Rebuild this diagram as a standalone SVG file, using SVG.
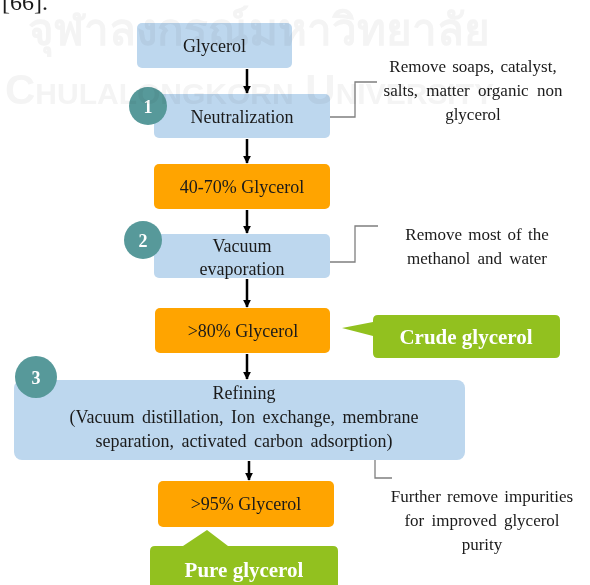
<svg xmlns="http://www.w3.org/2000/svg" width="590" height="585" viewBox="0 0 590 585">
  <defs>
    <marker id="arrow" viewBox="0 0 10 10" refX="9" refY="5" markerWidth="3.2" markerHeight="3.2" orient="auto" markerUnits="strokeWidth">
      <path d="M0,0 L10,5 L0,10 z" fill="#000"/>
    </marker>
    <style>
      text { font-family: "Liberation Serif", serif; }
      .box { font-size: 18px; fill: #1a1a1a; }
      .note { font-size: 17px; fill: #1a1a1a; }
      .num { font-weight: bold; font-size: 18px; fill: #fff; }
      .tag { font-weight: bold; font-size: 21px; fill: #fff; }
      .blue { fill: #bdd7ee; }
      .orange { fill: #ffa400; }
      .green { fill: #92c11f; }
      .step { fill: #57999a; }
      .flow { stroke: #000; stroke-width: 2.5; fill: none; marker-end: url(#arrow); }
      .lead { stroke: #7f7f7f; stroke-width: 1.3; fill: none; }
      .wm { font-family: "Liberation Sans", sans-serif; font-weight: bold; fill: #f4f4f4; mix-blend-mode: multiply; }
    </style>
  </defs>

  <rect width="590" height="585" fill="#fff"/>

  <text x="2" y="10" font-size="24" fill="#1a1a1a">[66].</text>

  <!-- connectors -->
  <g id="connectors">
    <line class="flow" x1="247" y1="69" x2="247" y2="93"/>
    <line class="flow" x1="247" y1="139" x2="247" y2="163"/>
    <line class="flow" x1="247" y1="210" x2="247" y2="233"/>
    <line class="flow" x1="247" y1="279" x2="247" y2="307"/>
    <line class="flow" x1="247" y1="354" x2="247" y2="379"/>
    <line class="flow" x1="249" y1="461" x2="249" y2="480"/>
    <path class="lead" d="M330,117 H355 V82 H377"/>
    <path class="lead" d="M330,262 H355 V226 H378"/>
    <path class="lead" d="M360,455 H375 V478 H392"/>
  </g>

  <g id="glycerol">
    <rect class="blue" x="137" y="23" width="155" height="45" rx="5"/>
    <text class="box" x="214.5" y="52" text-anchor="middle">Glycerol</text>
  </g>

  <g id="neutralization">
    <rect class="blue" x="154" y="94" width="176" height="44" rx="5"/>
    <text class="box" x="242" y="123" text-anchor="middle">Neutralization</text>
    <circle class="step" cx="148" cy="106" r="19"/>
    <text class="num" x="148" y="112.5" text-anchor="middle">1</text>
  </g>

  <g id="note-neutralization">
    <text class="note" x="473" y="72" text-anchor="middle" word-spacing="2">Remove soaps, catalyst,</text>
    <text class="note" x="473" y="96" text-anchor="middle" word-spacing="4">salts, matter organic non</text>
    <text class="note" x="473" y="120" text-anchor="middle">glycerol</text>
  </g>

  <g id="glycerol-40-70">
    <rect class="orange" x="154" y="164" width="176" height="45" rx="5"/>
    <text class="box" x="242" y="193" text-anchor="middle">40-70% Glycerol</text>
  </g>

  <g id="vacuum-evaporation">
    <rect class="blue" x="154" y="234" width="176" height="44" rx="5"/>
    <text class="box" x="242" y="252" text-anchor="middle">Vacuum</text>
    <text class="box" x="242" y="275" text-anchor="middle">evaporation</text>
    <circle class="step" cx="143" cy="240" r="19"/>
    <text class="num" x="143" y="246.5" text-anchor="middle">2</text>
  </g>

  <g id="note-evaporation">
    <text class="note" x="477" y="240" text-anchor="middle" word-spacing="2">Remove most of the</text>
    <text class="note" x="477" y="264" text-anchor="middle" word-spacing="3">methanol and water</text>
  </g>

  <g id="glycerol-80">
    <rect class="orange" x="155" y="308" width="175" height="45" rx="5"/>
    <text class="box" x="243" y="337" text-anchor="middle">&gt;80% Glycerol</text>
  </g>

  <g id="crude-glycerol">
    <path class="green" d="M378,315 H555 Q560,315 560,320 V353 Q560,358 555,358 H378 Q373,358 373,353 V336 L342,328 L373,322 V320 Q373,315 378,315 Z"/>
    <text class="tag" x="466" y="344" text-anchor="middle">Crude glycerol</text>
  </g>

  <g id="refining">
    <rect class="blue" x="14" y="380" width="451" height="80" rx="8"/>
    <text class="box" x="244" y="399" text-anchor="middle">Refining</text>
    <text class="box" x="244" y="423" text-anchor="middle" word-spacing="3">(Vacuum distillation, Ion exchange, membrane</text>
    <text class="box" x="244" y="447" text-anchor="middle" word-spacing="3">separation, activated carbon adsorption)</text>
    <circle class="step" cx="36" cy="377" r="21"/>
    <text class="num" x="36" y="383.5" text-anchor="middle">3</text>
  </g>

  <g id="note-refining">
    <text class="note" x="482" y="502" text-anchor="middle" word-spacing="2">Further remove impurities</text>
    <text class="note" x="482" y="526" text-anchor="middle" word-spacing="3">for improved glycerol</text>
    <text class="note" x="482" y="550" text-anchor="middle">purity</text>
  </g>

  <g id="glycerol-95">
    <rect class="orange" x="158" y="481" width="176" height="46" rx="5"/>
    <text class="box" x="246" y="510" text-anchor="middle">&gt;95% Glycerol</text>
  </g>

  <g id="pure-glycerol">
    <path class="green" d="M155,546 H183 L207,530 L228,546 H333 Q338,546 338,551 V590 H150 V551 Q150,546 155,546 Z"/>
    <text class="tag" x="244" y="577" text-anchor="middle">Pure glycerol</text>
  </g>

  <!-- faint background lettering, multiplied so it only tints what lies beneath -->
  <g id="watermark">
    <text class="wm" x="28" y="45" font-size="44">จุฬาลงกรณ์มหาวิทยาลัย</text>
    <text class="wm" x="5" y="104" font-size="42">C<tspan font-size="30">HULALONGKORN</tspan> U<tspan font-size="30">NIVERSITY</tspan></text>
  </g>
</svg>
